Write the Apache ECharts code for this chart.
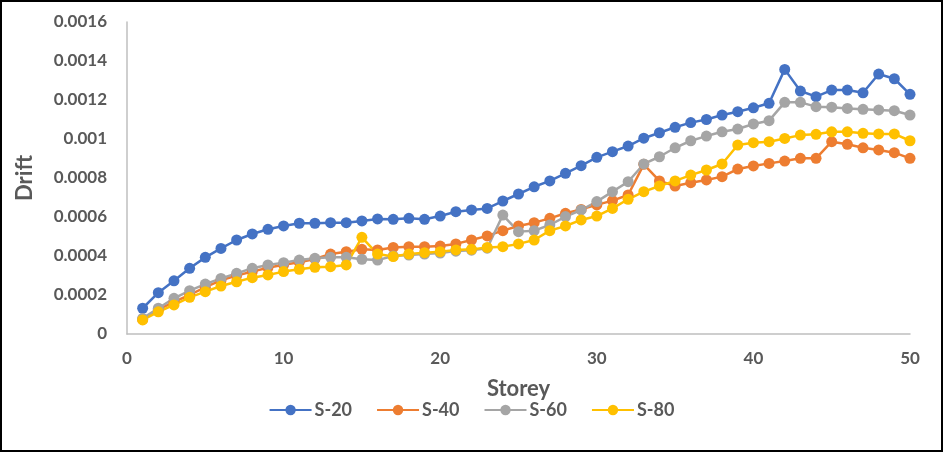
<!DOCTYPE html>
<html><head><meta charset="utf-8">
<script src="https://cdn.jsdelivr.net/npm/echarts@6/dist/echarts.min.js"></script>
<style>
html,body{margin:0;padding:0;background:#fff;}
#wrap{position:absolute;left:0;top:0;width:943px;height:452px;box-sizing:border-box;border:2px solid #000;}
#chart{position:absolute;left:0;top:0;width:943px;height:452px;}
</style></head>
<body>
<div id="chart"></div><div id="wrap"></div>
<script>
const storeys = Array.from({length:50},(_,i)=>i+1);
const s20 = [0.000132,0.000212,0.000273,0.000337,0.000393,0.000439,0.000482,0.000513,0.000537,0.000554,
0.000568,0.000568,0.000571,0.000571,0.00058,0.00059,0.000588,0.000593,0.000588,0.000605,
0.000627,0.000636,0.000644,0.000682,0.000718,0.000755,0.000785,0.000824,0.000863,0.000906,
0.000935,0.000964,0.001004,0.001032,0.00106,0.001084,0.0011,0.001123,0.00114,0.00116,
0.001183,0.001357,0.001246,0.001217,0.001251,0.001251,0.001237,0.001333,0.001309,0.001229];
const s40 = [0.000075,0.000125,0.000165,0.0002,0.00024,0.000275,0.0003,0.00032,0.00034,0.000355,
0.000368,0.000385,0.00041,0.000422,0.000434,0.000431,0.000444,0.000448,0.000448,0.000451,
0.000462,0.000482,0.000503,0.00053,0.000554,0.000571,0.000593,0.000619,0.000639,0.000662,
0.000684,0.000713,0.00087,0.000785,0.000759,0.000776,0.00079,0.000807,0.000846,0.000862,
0.000875,0.000887,0.000901,0.000901,0.000986,0.000973,0.000955,0.000944,0.00093,0.000901];
const s60 = [0.00008,0.000132,0.000183,0.000222,0.000256,0.000285,0.000311,0.000337,0.000354,0.000366,
0.000379,0.000388,0.000393,0.000393,0.000383,0.000379,0.0004,0.000405,0.00041,0.000415,
0.000425,0.00043,0.00044,0.00061,0.000525,0.00053,0.000559,0.000602,0.000636,0.000679,
0.00073,0.000781,0.000872,0.000909,0.000955,0.000991,0.001015,0.001037,0.001051,0.001077,
0.001094,0.001188,0.001188,0.001166,0.001163,0.001157,0.001152,0.001149,0.001145,0.001123];
const s80 = [0.000072,0.000114,0.000149,0.000188,0.000217,0.000246,0.000268,0.000289,0.000303,0.00032,
0.000332,0.000342,0.000345,0.000354,0.000496,0.00041,0.000397,0.00041,0.000417,0.000422,
0.000431,0.000434,0.000444,0.000448,0.000462,0.000482,0.00053,0.000554,0.000585,0.000605,
0.000644,0.000691,0.00073,0.000759,0.000785,0.000815,0.000841,0.000872,0.000969,0.000981,
0.000986,0.001003,0.00102,0.001024,0.001037,0.001037,0.001029,0.001026,0.001026,0.000991];
const seriesNames = ['S-20','S-40','S-60','S-80'];
const seriesData = [s20,s40,s60,s80];
const colors = ['#4472C4','#ED7D31','#A5A5A5','#FFC000'];
const font = 'Lato, "Open Sans", sans-serif';

const chart = echarts.init(document.getElementById('chart'));
chart.setOption({
  animation:false,
  color:colors,
  grid:{left:127,right:33,top:22,bottom:118,containLabel:false},
  legend:{
    bottom:28,left:'center',itemWidth:42,itemHeight:13,itemGap:24,
    data:seriesNames,
    textStyle:{fontFamily:font,fontSize:18,color:'#595959',fontWeight:'bold',padding:[0,0,0,-2]}
  },
  xAxis:{
    type:'value',min:0,max:50,interval:10,
    name:'Storey',nameLocation:'middle',nameGap:44,
    nameTextStyle:{fontFamily:font,fontSize:22,fontWeight:'bold',color:'#595959'},
    axisLine:{show:true,lineStyle:{color:'#BFBFBF',width:1.5}},
    axisTick:{show:false},
    splitLine:{show:false},
    axisLabel:{fontFamily:font,fontSize:17,fontWeight:'bold',color:'#595959',margin:16}
  },
  yAxis:{
    type:'value',min:0,max:0.0016,interval:0.0002,
    name:'Drift',nameLocation:'middle',nameGap:91,
    nameTextStyle:{fontFamily:font,fontSize:22,fontWeight:'bold',color:'#595959'},
    axisLine:{show:true,lineStyle:{color:'#BFBFBF',width:1.5}},
    axisTick:{show:false},
    splitLine:{show:false},
    axisLabel:{fontFamily:font,fontSize:17,fontWeight:'bold',color:'#595959',margin:20,
      formatter:v=>v===0?'0':String(Number(v.toPrecision(6)))}
  },
  series:seriesNames.map((n,i)=>({
    name:n,type:'line',
    data:storeys.map((s,j)=>[s,seriesData[i][j]]),
    symbol:'circle',symbolSize:11,
    lineStyle:{width:2.5,color:colors[i]},
    itemStyle:{color:colors[i]}
  }))
});
</script>
</body></html>
